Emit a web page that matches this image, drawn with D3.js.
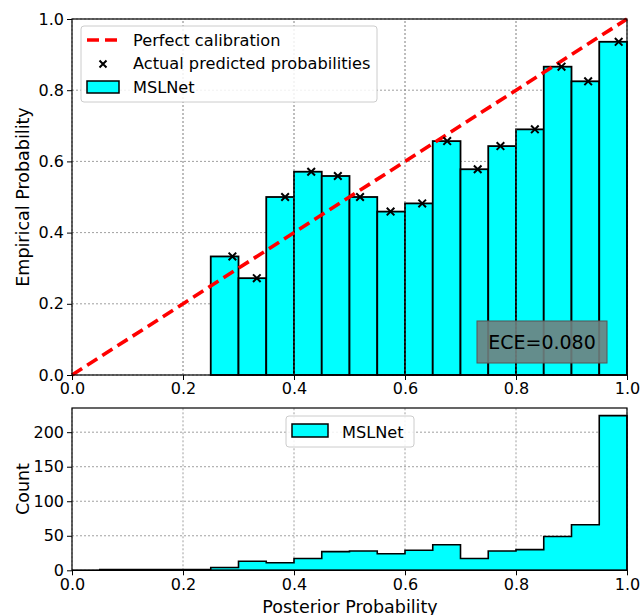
<!DOCTYPE html>
<html>
<head>
<meta charset="utf-8">
<script src="https://cdn.jsdelivr.net/npm/d3@7"></script>
<style>
  body { margin: 0; background: #fff; }
  text { font-family: "DejaVu Sans", sans-serif; fill: #000; }
</style>
</head>
<body>
<div class="calviz"></div>
<script>
// reliability diagram data (bins of width 0.05)
const binStart = [0.25, 0.30, 0.35, 0.40, 0.45, 0.50, 0.55, 0.60, 0.65, 0.70, 0.75, 0.80, 0.85, 0.90, 0.95];
const binEnd   = [0.30, 0.35, 0.40, 0.45, 0.50, 0.55, 0.60, 0.65, 0.70, 0.75, 0.80, 0.85, 0.90, 0.95, 1.00];
const accuracy = [0.333, 0.272, 0.500, 0.571, 0.559, 0.500, 0.459, 0.482, 0.657, 0.578, 0.643, 0.690, 0.866, 0.825, 0.936];
const confidence = [0.289, 0.333, 0.384, 0.431, 0.479, 0.519, 0.574, 0.631, 0.676, 0.731, 0.772, 0.834, 0.882, 0.930, 0.985];

// histogram of posterior probabilities
const histEdges = [0.00, 0.05, 0.10, 0.15, 0.20, 0.25, 0.30, 0.35, 0.40, 0.45, 0.50, 0.55, 0.60, 0.65, 0.70, 0.75, 0.80, 0.85, 0.90, 0.95, 1.00];
const histCounts = [0, 1, 1, 1, 1, 4, 13, 11, 17, 27, 28, 24, 29, 37, 17, 28, 30, 49, 66, 224];

const xTicks = [0.0, 0.2, 0.4, 0.6, 0.8, 1.0];
const yTicksTop = [0.0, 0.2, 0.4, 0.6, 0.8, 1.0];
const yTicksBottom = [0, 50, 100, 150, 200];
const eceText = "ECE=0.080";

const W = 642, H = 615;
const svg = d3.select(".calviz").append("svg")
    .attr("width", W).attr("height", H);

const x = d3.scaleLinear().domain([0, 1]).range([72, 627]);
const yTop = d3.scaleLinear().domain([0, 1]).range([375, 19]);
const yBot = d3.scaleLinear().domain([0, 235]).range([570.3, 408]);

function gridLines(y, yTicks) {
    const g = svg.append("g");
    g.selectAll(".vg").data(xTicks).join("line")
        .attr("x1", d => x(d)).attr("x2", d => x(d))
        .attr("y1", y.range()[0]).attr("y2", y.range()[1])
        .attr("stroke", "#888").attr("stroke-width", 0.8).attr("stroke-dasharray", "2,2");
    g.selectAll(".hg").data(yTicks).join("line")
        .attr("x1", x(0)).attr("x2", x(1))
        .attr("y1", d => y(d)).attr("y2", d => y(d))
        .attr("stroke", "#888").attr("stroke-width", 0.8).attr("stroke-dasharray", "2,2");
    return g;
}

function axesFrame(y, yTicks, fmt) {
    const g = svg.append("g");
    g.append("g").attr("transform", `translate(0,${y.range()[0]})`)
        .call(d3.axisBottom(x).tickValues(xTicks).tickFormat(d3.format(".1f")).tickSizeOuter(0).tickSize(5).tickPadding(3));
    g.append("g").attr("transform", `translate(${x(0)},0)`)
        .call(d3.axisLeft(y).tickValues(yTicks).tickFormat(fmt).tickSizeOuter(0).tickSize(5).tickPadding(3));
    g.selectAll(".domain").remove();
    g.selectAll(".tick text").style("font-size", "16px").style("font-family", "DejaVu Sans");
    g.selectAll(".tick line").attr("stroke", "#000").attr("stroke-width", 1);
    g.append("rect")
        .attr("x", x(0)).attr("y", y.range()[1])
        .attr("width", x(1) - x(0)).attr("height", y.range()[0] - y.range()[1])
        .attr("fill", "none").attr("stroke", "#000").attr("stroke-width", 1.2);
}

// ---------- top panel ----------
gridLines(yTop, yTicksTop);

const bars = binStart.map((s, i) => ({ s: s, e: binEnd[i], acc: accuracy[i], conf: confidence[i] }));
svg.append("g").selectAll("rect").data(bars).join("rect")
    .attr("x", d => x(d.s)).attr("width", d => x(d.e) - x(d.s))
    .attr("y", d => yTop(d.acc)).attr("height", d => yTop(0) - yTop(d.acc))
    .attr("fill", "#00ffff").attr("stroke", "#000").attr("stroke-width", 1.8);

// grid lines show faintly through the bars
svg.append("g").selectAll("line").data(xTicks.slice(1, 5)).join("line")
    .attr("x1", d => x(d)).attr("x2", d => x(d))
    .attr("y1", yTop(0)).attr("y2", yTop(1))
    .attr("stroke", "#888").attr("stroke-width", 0.8).attr("stroke-dasharray", "2,2").attr("opacity", 0.6);

// perfect calibration
svg.append("line")
    .attr("x1", x(0)).attr("y1", yTop(0)).attr("x2", x(1)).attr("y2", yTop(1))
    .attr("stroke", "#ff0000").attr("stroke-width", 3.6).attr("stroke-dasharray", "12,6");

// markers
const xMark = (g, cx, cy, r) => {
    g.append("path")
        .attr("d", `M${cx - r},${cy - r}L${cx + r},${cy + r}M${cx - r},${cy + r}L${cx + r},${cy - r}`)
        .attr("stroke", "#000").attr("stroke-width", 2);
};
const mg = svg.append("g");
bars.forEach(d => xMark(mg, x(d.conf), yTop(d.acc), 3.8));

// ECE box
const eg = svg.append("g");
eg.append("rect").attr("x", 477).attr("y", 321).attr("width", 130).attr("height", 42)
    .attr("fill", "#6f8180").attr("fill-opacity", 0.9).attr("stroke", "#555").attr("stroke-width", 1);
eg.append("text").attr("x", 542).attr("y", 349).attr("text-anchor", "middle")
    .style("font-size", "19px").text(eceText);

axesFrame(yTop, yTicksTop, d3.format(".1f"));

// top legend
const lg = svg.append("g");
lg.append("rect").attr("x", 81).attr("y", 26).attr("width", 296).attr("height", 76).attr("rx", 3)
    .attr("fill", "#fff").attr("fill-opacity", 0.85).attr("stroke", "#ccc");
lg.append("line").attr("x1", 87).attr("x2", 120).attr("y1", 40).attr("y2", 40)
    .attr("stroke", "#ff0000").attr("stroke-width", 3.6).attr("stroke-dasharray", "12,6");
xMark(lg, 103, 64, 3.5);
lg.append("rect").attr("x", 87).attr("y", 81).attr("width", 32).attr("height", 12)
    .attr("fill", "#00ffff").attr("stroke", "#000").attr("stroke-width", 1.5);
[["Perfect calibration", 46], ["Actual predicted probabilities", 69], ["MSLNet", 93]].forEach(t => {
    lg.append("text").attr("x", 133).attr("y", t[1]).style("font-size", "16.2px").text(t[0]);
});

// y label
svg.append("text").attr("transform", "translate(29,197) rotate(-90)")
    .attr("text-anchor", "middle").style("font-size", "17.5px").text("Empirical Probability");

// ---------- bottom panel ----------
gridLines(yBot, yTicksBottom);

let p = `M${x(histEdges[0])},${yBot(0)}`;
histCounts.forEach((c, i) => {
    p += `L${x(histEdges[i])},${yBot(c)}L${x(histEdges[i + 1])},${yBot(c)}`;
});
p += `L${x(histEdges[histEdges.length - 1])},${yBot(0)}Z`;
svg.append("path").attr("d", p)
    .attr("fill", "#00ffff").attr("stroke", "#000").attr("stroke-width", 1.6).attr("stroke-linejoin", "miter");

axesFrame(yBot, yTicksBottom, d3.format("d"));

// bottom legend
const bl = svg.append("g");
bl.append("rect").attr("x", 286).attr("y", 416).attr("width", 128).attr("height", 31).attr("rx", 3)
    .attr("fill", "#fff").attr("fill-opacity", 0.85).attr("stroke", "#ccc");
bl.append("rect").attr("x", 292).attr("y", 424).attr("width", 36).attr("height", 13)
    .attr("fill", "#00ffff").attr("stroke", "#000").attr("stroke-width", 1.5);
bl.append("text").attr("x", 342).attr("y", 438).style("font-size", "16.2px").text("MSLNet");

svg.append("text").attr("transform", "translate(29,489) rotate(-90)")
    .attr("text-anchor", "middle").style("font-size", "17.5px").text("Count");
svg.append("text").attr("x", 350).attr("y", 613)
    .attr("text-anchor", "middle").style("font-size", "17.5px").text("Posterior Probability");
</script>
</body>
</html>
